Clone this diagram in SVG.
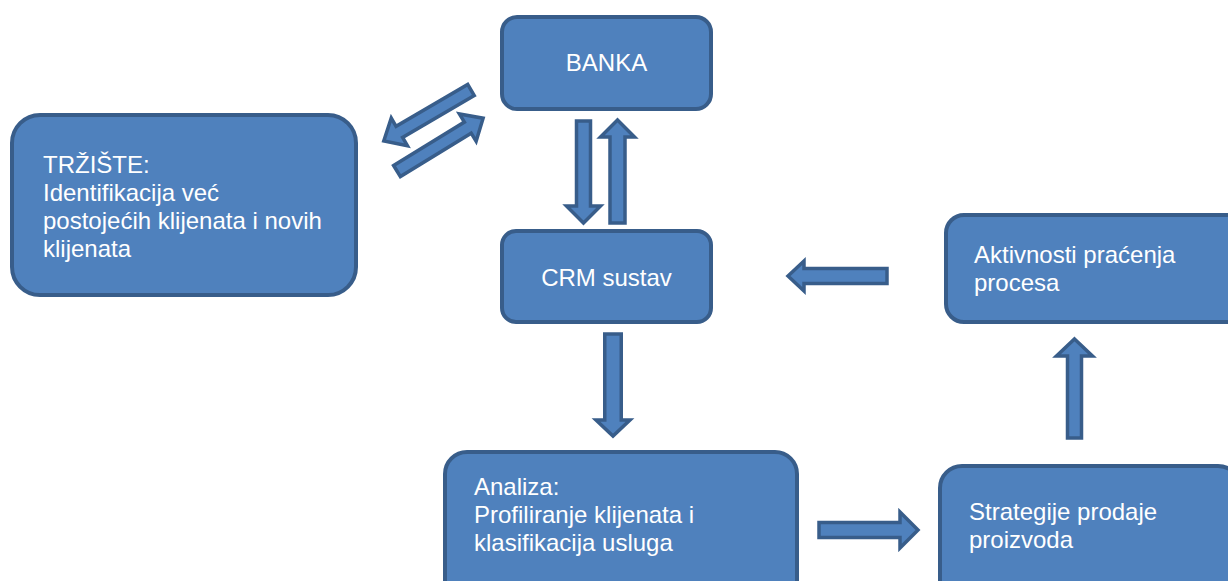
<svg xmlns="http://www.w3.org/2000/svg" width="1228" height="581" viewBox="0 0 1228 581">
<style>
.box{fill:#4F81BD;stroke:#385D8A;stroke-width:4}
.arr{fill:#4F81BD;stroke:#385D8A;stroke-width:3.5;stroke-linejoin:miter}
.t{font-family:"Liberation Sans",Arial,sans-serif;font-size:24px;fill:#FFFFFF}
</style>
<rect width="1228" height="581" fill="#FFFFFF"/>
<g id="connectors">
<polygon class="arr" transform="translate(471,90) rotate(149.7)" points="0,-6.5 83,-6.5 83,-16 101,0 83,16 83,6.5 0,6.5"/>
<polygon class="arr" transform="translate(397,171) rotate(-31.5)" points="0,-6.5 83,-6.5 83,-16 101,0 83,16 83,6.5 0,6.5"/>
<polygon class="arr" points="576.5,121 590.5,121 590.5,206 600.5,206 583.5,223 566.5,206 576.5,206"/>
<polygon class="arr" points="617.5,120 634.5,137 625,137 625,223 610,223 610,137 600.5,137"/>
<polygon class="arr" points="788,276 804,261 804,268.5 887,268.5 887,283.5 804,283.5 804,291"/>
<polygon class="arr" points="604.75,334 621.25,334 621.25,420 630,420 613,436 596,420 604.75,420"/>
<polygon class="arr" points="819,522.5 900,522.5 900,512 918,530 900,548 900,537.5 819,537.5"/>
<polygon class="arr" points="1074.5,339 1092.5,356 1081.5,356 1081.5,438 1067.5,438 1067.5,356 1056.5,356"/>
</g>
<g id="banka">
<rect class="box" x="502" y="17" width="209" height="92" rx="15"/>
<text class="t" x="606.5" y="71" text-anchor="middle">BANKA</text>
</g>
<g id="trziste">
<rect class="box" x="12" y="115" width="344" height="180" rx="28"/>
<text class="t" x="43" y="173">TRŽIŠTE:</text>
<text class="t" x="43" y="201">Identifikacija već</text>
<text class="t" x="43" y="229">postojećih klijenata i novih</text>
<text class="t" x="43" y="257">klijenata</text>
</g>
<g id="crm">
<rect class="box" x="502" y="231" width="209" height="91" rx="14"/>
<text class="t" x="606.5" y="286" text-anchor="middle">CRM sustav</text>
</g>
<g id="aktivnosti">
<rect class="box" x="946" y="215" width="300" height="107" rx="18"/>
<text class="t" x="974" y="263">Aktivnosti praćenja</text>
<text class="t" x="974" y="291">procesa</text>
</g>
<g id="analiza">
<rect class="box" x="445" y="452" width="352" height="150" rx="22"/>
<text class="t" x="474" y="495">Analiza:</text>
<text class="t" x="474" y="523">Profiliranje klijenata i</text>
<text class="t" x="474" y="551">klasifikacija usluga</text>
</g>
<g id="strategije">
<rect class="box" x="940" y="466" width="300" height="140" rx="22"/>
<text class="t" x="969" y="520">Strategije prodaje</text>
<text class="t" x="969" y="548">proizvoda</text>
</g>
</svg>
